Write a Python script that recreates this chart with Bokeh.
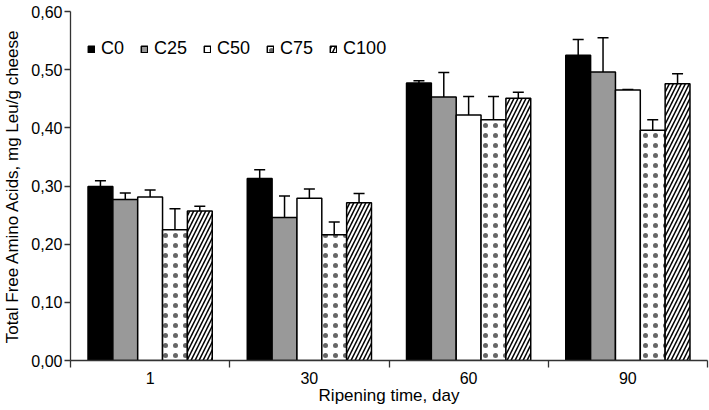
from bokeh.plotting import figure
from bokeh.models import (ColumnDataSource, Range1d, FixedTicker, CustomJSTickFormatter,
                          Whisker, TeeHead, Legend, LegendItem)
from bokeh.embed import file_html
from bokeh.resources import INLINE

# ---- data ----
days = ["1", "30", "60", "90"]
series = ["C0", "C25", "C50", "C75", "C100"]
c0_mean = [0.299, 0.313, 0.477, 0.525]
c25_mean = [0.277, 0.246, 0.453, 0.496]
c50_mean = [0.281, 0.279, 0.422, 0.465]
c75_mean = [0.225, 0.216, 0.414, 0.396]
c100_mean = [0.257, 0.271, 0.451, 0.476]
c0_sd = [0.010, 0.015, 0.004, 0.027]
c25_sd = [0.011, 0.037, 0.042, 0.059]
c50_sd = [0.012, 0.016, 0.032, 0.001]
c75_sd = [0.036, 0.022, 0.040, 0.018]
c100_sd = [0.008, 0.016, 0.010, 0.017]
y_ticks = [0.0, 0.1, 0.2, 0.3, 0.4, 0.5, 0.6]

means = [c0_mean, c25_mean, c50_mean, c75_mean, c100_mean]
sds = [c0_sd, c25_sd, c50_sd, c75_sd, c100_sd]

FONT = "Liberation Sans"

p = figure(width=709, height=410, output_backend="svg", toolbar_location=None,
           x_range=Range1d(0, len(days)), y_range=Range1d(0, 0.6),
           min_border_left=70, min_border_right=2, min_border_top=11, min_border_bottom=50)
p.outline_line_color = None
p.xgrid.visible = False
p.ygrid.visible = False
p.background_fill_color = "white"
p.border_fill_color = "white"

styles = [
    dict(fill_color="black"),
    dict(fill_color="#999999"),
    dict(fill_color="white"),
    dict(fill_color="white", hatch_pattern="dot", hatch_scale=10,
         hatch_weight=0.5, hatch_color="black", hatch_alpha=0.6),
    dict(fill_color="white", hatch_pattern="right_diagonal_line", hatch_scale=8,
         hatch_weight=1.5, hatch_color="black"),
]

n = len(series)
bw = 0.156
items = []
for k, name in enumerate(series):
    off = (k - (n - 1) / 2) * bw
    xs = [i + 0.5 + off for i in range(len(days))]
    m = means[k]
    up = [a + b for a, b in zip(m, sds[k])]
    src = ColumnDataSource(dict(x=xs, top=m, upper=up))
    kw = dict(x="x", top="top", width=bw, bottom=0, source=src,
              line_color="black", line_width=1.5)
    kw.update(styles[k])
    r = p.vbar(**kw)
    items.append(LegendItem(label=name, renderers=[r]))
    w = Whisker(base="x", upper="upper", lower="top", source=src, line_color="black",
                line_width=1.5, lower_head=None,
                upper_head=TeeHead(size=11, line_width=1.5, line_color="black"))
    p.add_layout(w)

legend = Legend(items=items, orientation="horizontal", location=(17, 301),
                glyph_width=8, glyph_height=8, label_standoff=6, spacing=16,
                padding=0, margin=0, border_line_color=None, background_fill_alpha=0,
                label_text_font=FONT, label_text_font_size="18px", label_text_color="black")
p.add_layout(legend)

# y axis
p.yaxis.ticker = FixedTicker(ticks=y_ticks)
p.yaxis.formatter = CustomJSTickFormatter(code="return tick.toFixed(2).replace('.', ',');")
p.yaxis.axis_label = "Total Free Amino Acids, mg Leu/g cheese"
p.yaxis.major_tick_out = 6
p.yaxis.major_tick_in = 0
p.yaxis.minor_tick_out = 0
p.yaxis.major_label_standoff = 2
p.yaxis.axis_label_standoff = 6

# x axis
p.xaxis.ticker = FixedTicker(ticks=[i + 0.5 for i in range(len(days))],
                             minor_ticks=list(range(len(days) + 1)))
p.xaxis.formatter = CustomJSTickFormatter(args=dict(labels=days),
                                          code="return labels[Math.floor(tick)];")
p.xaxis.axis_label = "Ripening time, day"
p.xaxis.major_tick_out = 0
p.xaxis.major_tick_in = 0
p.xaxis.minor_tick_out = 7
p.xaxis.minor_tick_in = 0
p.xaxis.major_label_standoff = 4
p.xaxis.axis_label_standoff = -1

for ax in (p.xaxis, p.yaxis):
    ax.axis_line_color = "#333333"
    ax.axis_line_width = 1.3
    ax.major_tick_line_color = "#333333"
    ax.minor_tick_line_color = "#333333"
    ax.major_tick_line_width = 1.3
    ax.minor_tick_line_width = 1.3
    ax.major_label_text_font = FONT
    ax.major_label_text_font_size = "16px"
    ax.major_label_text_color = "black"
    ax.axis_label_text_font = FONT
    ax.axis_label_text_font_size = "17px"
    ax.axis_label_text_font_style = "normal"
    ax.axis_label_text_color = "black"

open("out.html", "w").write(file_html(p, INLINE))
